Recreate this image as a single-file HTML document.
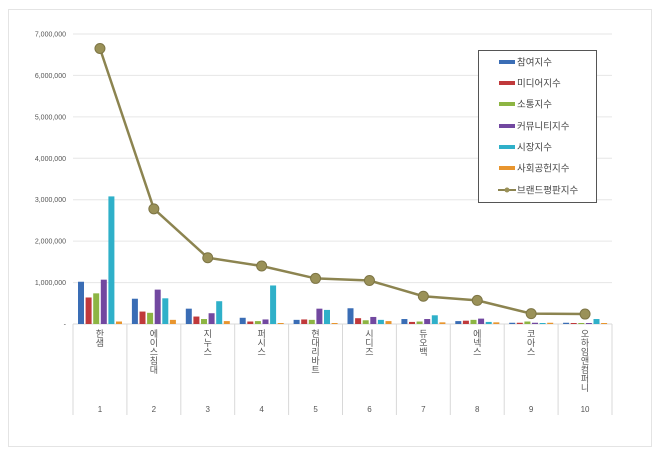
<!DOCTYPE html>
<html><head><meta charset="utf-8"><style>
html,body{margin:0;padding:0;background:#fff;}
svg{display:block;font-family:"Liberation Sans","Noto Sans CJK KR",sans-serif;}
</style></head><body>
<svg id="c" width="660" height="454" xmlns="http://www.w3.org/2000/svg">
<rect x="0" y="0" width="660" height="454" fill="#fff"/>
<rect x="8.5" y="9.5" width="643" height="437" fill="#fff" stroke="#e4e4e4"/>
</svg>
<script>
const s=document.getElementById('c');const NS='http://www.w3.org/2000/svg';
function el(t,a,txt){const e=document.createElementNS(NS,t);for(const k in a)e.setAttribute(k,a[k]);if(txt!==undefined)e.textContent=txt;s.appendChild(e);return e;}
const L=73,R=612,Y0=324,pm=290/7;const y=v=>Y0-v*pm;
for(let i=0;i<=7;i++){const yy=y(i);if(i>0)el('line',{x1:L,x2:R,y1:yy,y2:yy,stroke:'#e6e6e6'});
el('text',{x:66,y:yy+2.5,'font-size':7,fill:'#555','text-anchor':'end'},i==0?'-':(i+',000,000'));}
el('line',{x1:L,x2:R,y1:Y0,y2:Y0,stroke:'#d8d8d8'});
const cw=(R-L)/10;
for(let i=0;i<=10;i++){const x=L+i*cw;el('line',{x1:x,x2:x,y1:Y0,y2:415,stroke:'#d8d8d8'});}
const data=[[1.02,0.64,0.74,1.07,3.08,0.06],[0.61,0.30,0.27,0.83,0.62,0.10],[0.37,0.18,0.12,0.26,0.55,0.07],[0.15,0.06,0.07,0.11,0.93,0.01],[0.10,0.11,0.10,0.37,0.34,0.02],[0.38,0.14,0.09,0.17,0.10,0.07],[0.12,0.05,0.06,0.12,0.21,0.04],[0.07,0.08,0.10,0.13,0.05,0.04],[0.03,0.03,0.06,0.03,0.02,0.03],[0.03,0.01,0.01,0.01,0.12,0.01]];
const cols=['#3a6db5','#c0393b','#8db543','#7248a0','#2fb0c9','#e8952e'];
const names=['한샘','에이스침대','지누스','퍼시스','현대리바트','시디즈','듀오백','에넥스','코아스','오하임앤컴퍼니'];
const line=[6.65,2.78,1.6,1.4,1.1,1.05,0.67,0.57,0.25,0.24];
data.forEach((d,i)=>{const x0=L+i*cw+5;d.forEach((v,j)=>{const h=Math.max(v*pm,1);el('rect',{x:x0+j*7.6,y:Y0-h,width:6,height:h,fill:cols[j]});});
const cx=L+i*cw+cw/2;
const chars=[...names[i]];chars.forEach((c,k)=>el('text',{x:cx,y:337+k*9,'font-size':9,fill:'#555','text-anchor':'middle'},c));
el('text',{x:cx,y:412,'font-size':8,fill:'#555','text-anchor':'middle'},String(i+1));});
let p='';line.forEach((v,i)=>{p+=(i?'L':'M')+(L+i*cw+cw/2)+' '+y(v);});
el('path',{d:p,fill:'none',stroke:'#8c8450','stroke-width':2.5});
line.forEach((v,i)=>el('circle',{cx:L+i*cw+cw/2,cy:y(v),r:5,fill:'#9a9158',stroke:'#7d7545'}));
el('rect',{x:478.5,y:50.5,width:118,height:152,fill:'#fff',stroke:'#555'});
const ln=['참여지수','미디어지수','소통지수','커뮤니티지수','시장지수','사회공헌지수','브랜드평판지수'];
const ly=[62,83,104,126,147,168,190];
ln.forEach((t,i)=>{if(i<6)el('rect',{x:499,y:ly[i]-2,width:16,height:4,fill:cols[i]});else{el('line',{x1:498,x2:516,y1:ly[i],y2:ly[i],stroke:'#8c8450','stroke-width':2});el('circle',{cx:507,cy:ly[i],r:2.5,fill:'#9a9158'});}
el('text',{x:517,y:ly[i]+3.5,'font-size':9.5,fill:'#444'},t);});
</script>
</body></html>
